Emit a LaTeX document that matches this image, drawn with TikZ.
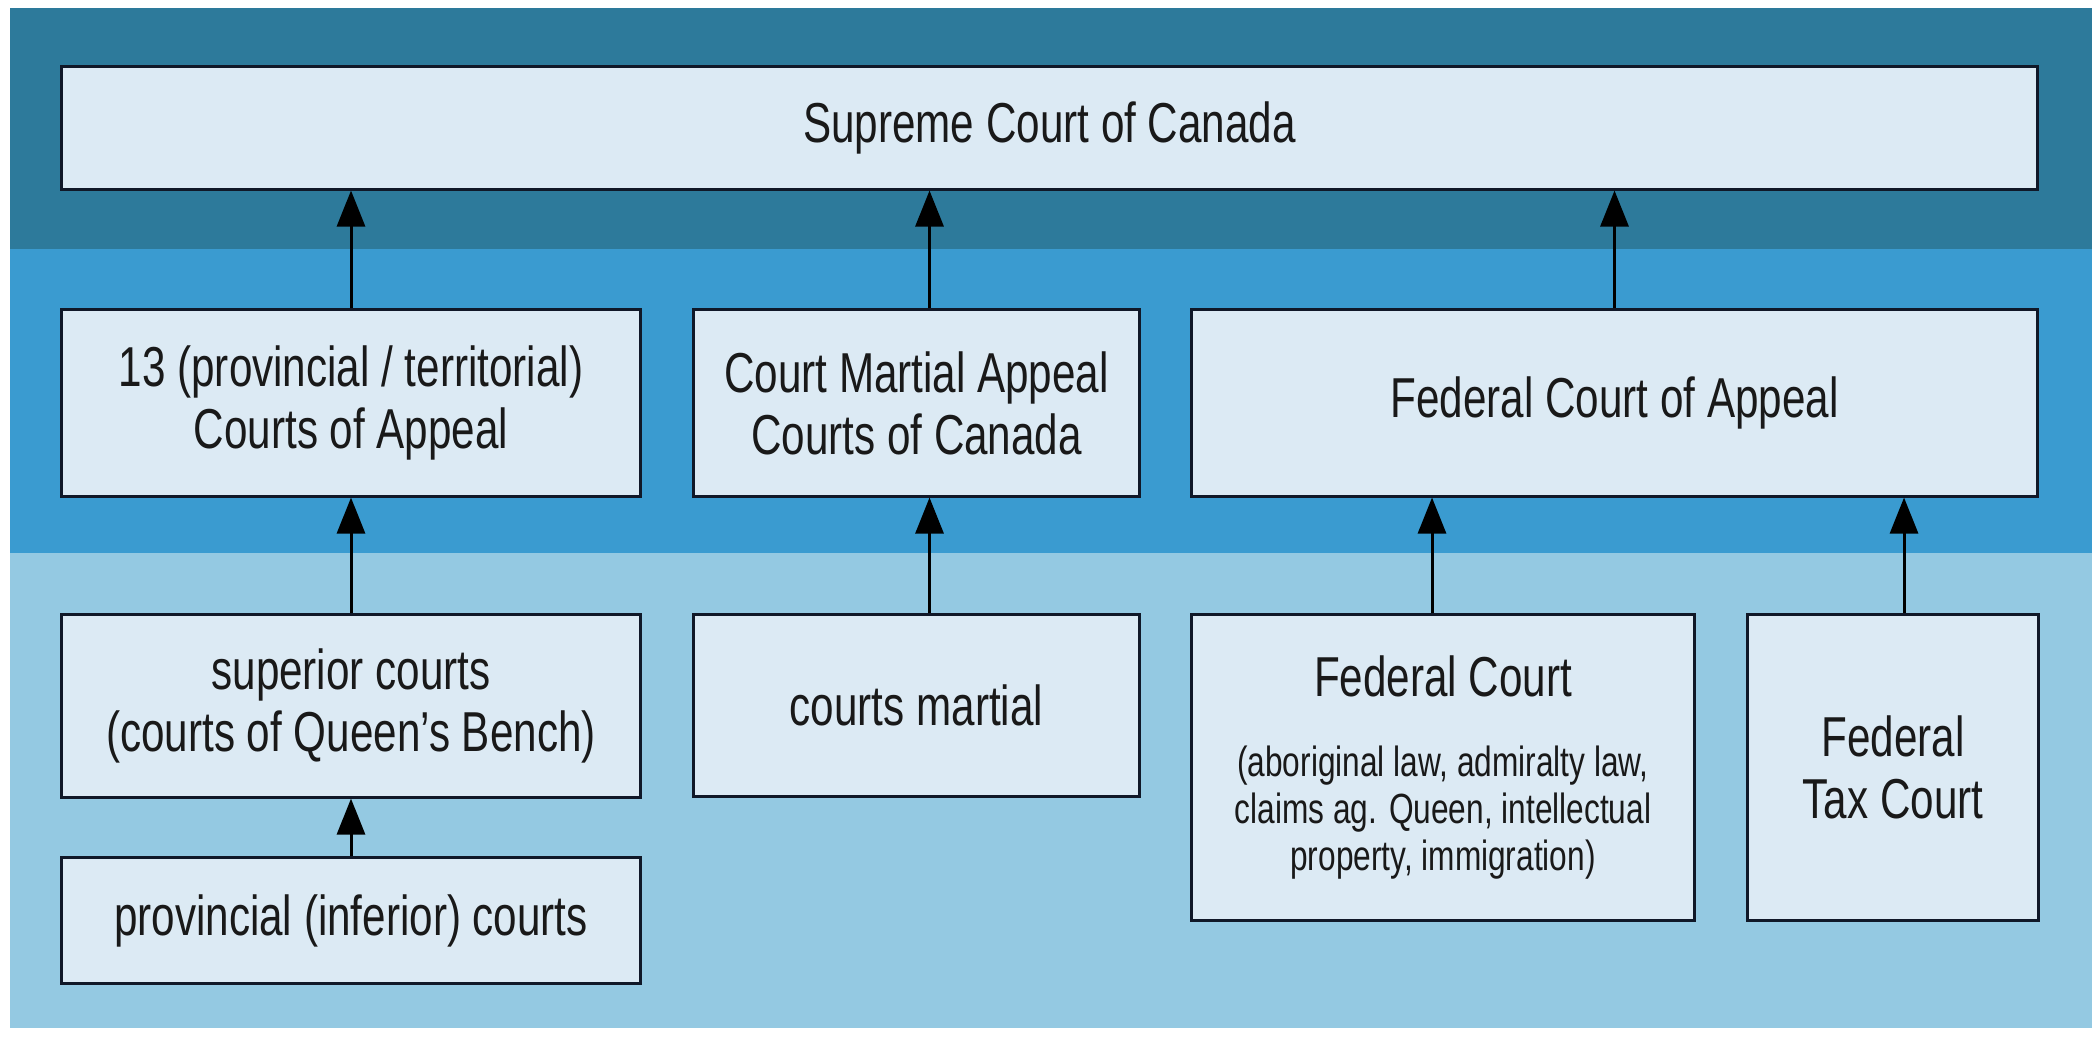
\documentclass[tikz,border=0pt]{standalone}
\usepackage{fontspec}
\setmainfont[FakeStretch=0.75]{Liberation Sans}
\usetikzlibrary{arrows.meta}
\definecolor{bandtop}{HTML}{2D7A9B}
\definecolor{bandmid}{HTML}{3A9BD0}
\definecolor{bandlow}{HTML}{94C9E2}
\definecolor{boxfill}{HTML}{DCEAF4}
\definecolor{boxline}{HTML}{101828}
\begin{document}
\begin{tikzpicture}[x=0.01cm,y=-0.01cm,
  court/.style={draw=boxline, line width=0.85pt, fill=boxfill, inner sep=0pt,
    align=center, font=\fontsize{16}{17.7}\selectfont, text=black!90},
  up/.style={draw=black, line width=0.85pt, -{Triangle[length=0.36cm,width=0.28cm]}}]
\useasboundingbox (0,0) rectangle (2095,1039);
\fill[white] (0,0) rectangle (2095,1039);
% bands
\fill[bandtop] (10,8) rectangle (2092,249);
\fill[bandmid] (10,249) rectangle (2092,553);
\fill[bandlow] (10,553) rectangle (2092,1028);
% top row
\node[court, minimum width=19.75cm, minimum height=1.22cm] (sup) at (1049.5,128) {Supreme Court of Canada};
% middle row
\node[court, minimum width=5.78cm, minimum height=1.86cm] (a) at (351,403) {13 (provincial / territorial)\\Courts of Appeal};
\node[court, minimum width=4.45cm, minimum height=1.86cm] (b) at (916.5,403) {Court Martial Appeal\\Courts of Canada};
\node[court, minimum width=8.45cm, minimum height=1.86cm] (c) at (1614.5,403) {Federal Court of Appeal};
% bottom row
\node[court, minimum width=5.78cm, minimum height=1.82cm] (sup2) at (351,706) {superior courts\\(courts of Queen’s Bench)};
\node[court, minimum width=5.78cm, minimum height=1.25cm] (prov) at (351,920.5) {provincial (inferior) courts};
\node[court, minimum width=4.45cm, minimum height=1.81cm] (cm) at (916.5,705.5) {courts martial};
\node[court, minimum width=5.02cm, minimum height=3.05cm] (fc) at (1443,767.5) {Federal Court\\[5pt]\parbox[t]{4.8cm}{\centering\fontsize{12}{13.3}\selectfont (aboriginal law, admiralty law,\\claims ag. Queen, intellectual\\property, immigration)}};
\node[court, minimum width=2.90cm, minimum height=3.05cm] (tax) at (1893,767.5) {Federal\\Tax Court};
% connectors
\draw[up] (a.north) -- (a.north |- sup.south);
\draw[up] ([xshift=0.13cm]b.north) -- ([xshift=0.13cm]b.north |- sup.south);
\draw[up] (c.north) -- (c.north |- sup.south);
\draw[up] (sup2.north) -- (a.south);
\draw[up] (prov.north) -- (sup2.south);
\draw[up] ([xshift=0.13cm]cm.north) -- ([xshift=0.13cm]b.south);
\draw[up] ([xshift=-0.11cm]fc.north) -- ([xshift=-0.11cm]fc.north |- c.south);
\draw[up] ([xshift=0.11cm]tax.north) -- ([xshift=0.11cm]tax.north |- c.south);
\end{tikzpicture}
\end{document}
